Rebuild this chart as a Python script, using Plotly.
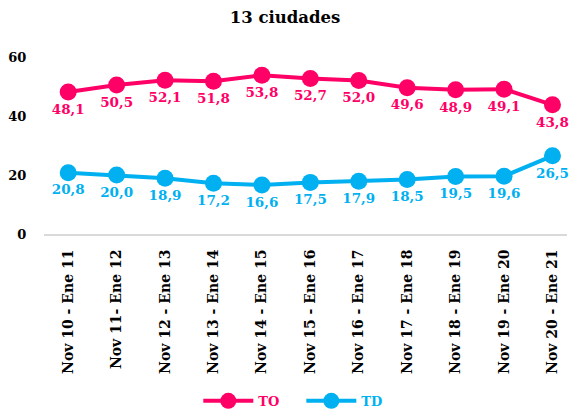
import plotly.graph_objects as go

categories = ["Nov 10 - Ene 11", "Nov 11- Ene 12", "Nov 12 - Ene 13", "Nov 13 - Ene 14",
              "Nov 14 - Ene 15", "Nov 15 - Ene 16", "Nov 16 - Ene 17", "Nov 17 - Ene 18",
              "Nov 18 - Ene 19", "Nov 19 - Ene 20", "Nov 20 - Ene 21"]
to_values = [48.1, 50.5, 52.1, 51.8, 53.8, 52.7, 52.0, 49.6, 48.9, 49.1, 43.8]
td_values = [20.8, 20.0, 18.9, 17.2, 16.6, 17.5, 17.9, 18.5, 19.5, 19.6, 26.5]
y_ticks = [0, 20, 40, 60]

PINK = "#FF0066"
BLUE = "#00B0F0"
FONT = "DejaVu Serif"

def fmt(v):
    return f"{v:.1f}".replace(".", ",")

fig = go.Figure()
for name, vals, col in [("TO", to_values, PINK), ("TD", td_values, BLUE)]:
    fig.add_trace(go.Scatter(
        x=list(range(len(categories))), y=vals,
        name=f"<span style='color:{col}'>{name}</span>",
        mode="lines+markers+text",
        line=dict(color=col, width=4),
        marker=dict(color=col, size=17),
        text=[fmt(v) for v in vals],
        textposition="bottom center",
        textfont=dict(family=FONT, size=13.5, color=col, weight="bold"),
        cliponaxis=False,
    ))

fig.update_layout(
    width=570, height=411,
    margin=dict(l=44, r=3, t=57, b=177, autoexpand=False),
    paper_bgcolor="white", plot_bgcolor="white",
    title=dict(text="<b>13 ciudades</b>", x=0.5, xanchor="center", y=0.957, yanchor="middle",
               font=dict(family=FONT, size=16.5, color="black")),
    showlegend=True,
    legend=dict(orientation="h", x=0.492, xanchor="center", y=-0.943,
                yanchor="middle", font=dict(family=FONT, size=13, color="black", weight="bold"),
                traceorder="normal", itemwidth=50, entrywidth=38, entrywidthmode="pixels"),
    xaxis=dict(
        tickmode="array", tickvals=list(range(len(categories))), ticktext=categories,
        range=[-0.5, 10.3], tickangle=-90, showgrid=False, zeroline=False,
        showline=True, linecolor="#D9D9D9", linewidth=2, automargin=False,
        ticks="outside", ticklen=8, tickcolor="rgba(0,0,0,0)",
        tickfont=dict(family=FONT, size=14, color="black", weight="bold"),
    ),
    yaxis=dict(
        range=[0, 60], tickvals=y_ticks, showgrid=False, zeroline=False, showline=False,
        automargin=False,
        ticks="outside", ticklen=14, tickcolor="rgba(0,0,0,0)",
        tickfont=dict(family=FONT, size=13, color="black", weight="bold"),
    ),
)

fig.write_html("out.html", config={"displayModeBar": False},
               post_script="document.body.style.margin='0';")
